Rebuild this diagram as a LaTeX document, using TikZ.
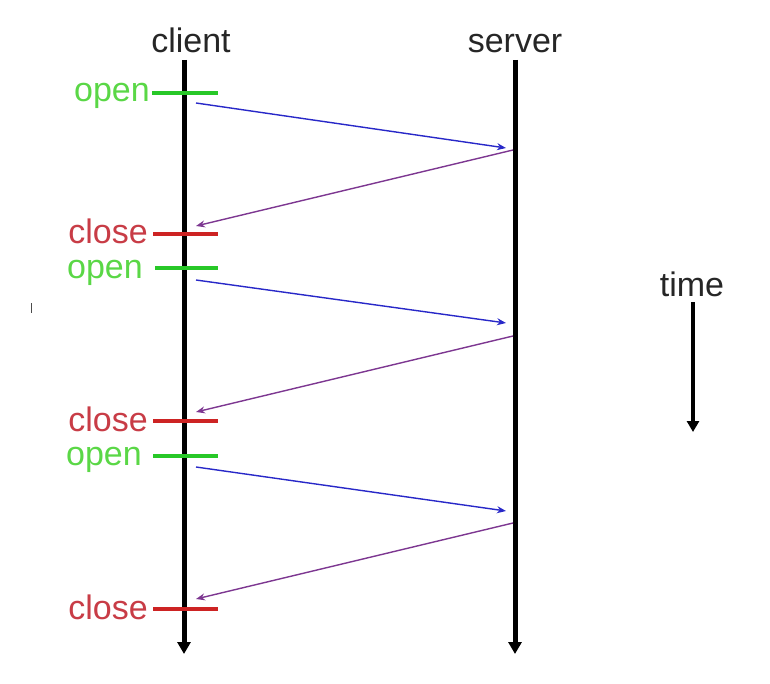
\documentclass[tikz,border=0pt]{standalone}
\usepackage{fontspec}
\setmainfont{Liberation Sans}
\usetikzlibrary{arrows.meta}
\definecolor{tickgreen}{RGB}{40,200,40}
\definecolor{labgreen}{RGB}{90,215,70}
\definecolor{tickred}{RGB}{205,35,35}
\definecolor{labred}{RGB}{200,60,70}
\definecolor{msgblue}{RGB}{40,40,200}
\definecolor{msgpurple}{RGB}{125,55,145}
\tikzset{
  lbl/.style={font=\fontsize{34}{36}\selectfont, inner sep=0pt},
  head/.style={lbl, text=black!85},
  lifeline/.style={line width=5pt, -{Triangle[length=12pt,width=13pt]}},
  opentick/.style={tickgreen, line width=3.5pt},
  closetick/.style={tickred, line width=3.5pt},
  openlbl/.style={lbl, text=labgreen, anchor=base east},
  closelbl/.style={lbl, text=labred, anchor=base east},
  req/.style={msgblue, line width=1.4pt, -{Stealth[length=9pt,width=7pt]}},
  resp/.style={msgpurple, line width=1.4pt, -{Stealth[length=9pt,width=7pt]}}
}
\begin{document}
\begin{tikzpicture}[x=1pt,y=-1pt]
\useasboundingbox (0,0) rectangle (770,684);
% headers
\node[head, anchor=base] (client) at (191,53) {client};
\node[head, anchor=base] (server) at (515,53) {server};
% lifelines
\coordinate (cTop) at (184,60);
\coordinate (cBot) at (184,654);
\coordinate (sTop) at (515,60);
\coordinate (sBot) at (515,654);
\draw[lifeline] (cTop) -- (cBot);
\draw[lifeline] (sTop) -- (sBot);
% ticks
\node[openlbl] (o1) at (150,102) {open};
\coordinate (o1s) at (152,93);
\coordinate (o1e) at (218,93);
\draw[opentick] (o1s) -- (o1e);
\node[closelbl] (c1) at (148,244) {close};
\coordinate (c1s) at (153,234);
\coordinate (c1e) at (218,234);
\draw[closetick] (c1s) -- (c1e);
\node[openlbl] (o2) at (143,279) {open};
\coordinate (o2s) at (155,268);
\coordinate (o2e) at (218,268);
\draw[opentick] (o2s) -- (o2e);
\node[closelbl] (c2) at (148,431) {close};
\coordinate (c2s) at (153,421);
\coordinate (c2e) at (218,421);
\draw[closetick] (c2s) -- (c2e);
\node[openlbl] (o3) at (142,465) {open};
\coordinate (o3s) at (153,456);
\coordinate (o3e) at (218,456);
\draw[opentick] (o3s) -- (o3e);
\node[closelbl] (c3) at (148,619) {close};
\coordinate (c3s) at (153,609);
\coordinate (c3e) at (218,609);
\draw[closetick] (c3s) -- (c3e);
% messages
\coordinate (r1a) at (196,103);
\coordinate (r1b) at (506,148);
\coordinate (p1a) at (513,150);
\coordinate (p1b) at (196,226);
\coordinate (r2a) at (196,280);
\coordinate (r2b) at (506,323);
\coordinate (p2a) at (513,336);
\coordinate (p2b) at (196,412);
\coordinate (r3a) at (196,467);
\coordinate (r3b) at (506,511);
\coordinate (p3a) at (513,523);
\coordinate (p3b) at (196,599);
\draw[req] (r1a) -- (r1b);
\draw[resp] (p1a) -- (p1b);
\draw[req] (r2a) -- (r2b);
\draw[resp] (p2a) -- (p2b);
\draw[req] (r3a) -- (r3b);
\draw[resp] (p3a) -- (p3b);
% time arrow
\node[head, anchor=base] (time) at (692,297) {time};
\coordinate (tTop) at (693,302);
\coordinate (tEnd) at (693,432);
\draw[line width=4.5pt, -{Triangle[length=11pt,width=12pt]}] (tTop) -- (tEnd);
% stray mark
\coordinate (m1) at (31,303);
\coordinate (m2) at (31,313);
\draw[black!70, line width=1pt] (m1) -- (m2);
\end{tikzpicture}
\end{document}
